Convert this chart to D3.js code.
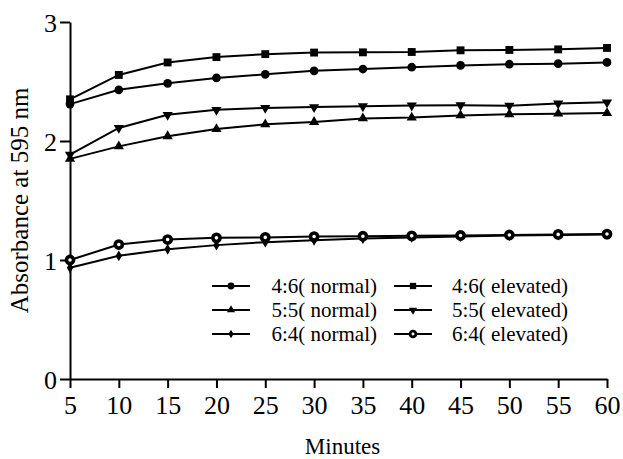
<!DOCTYPE html>
<html>
<head>
<meta charset="utf-8">
<script src="https://cdn.jsdelivr.net/npm/d3@7"></script>
<style>
body { margin: 0; background: #fff; }
text { font-family: "Liberation Serif", "Times New Roman", serif; fill: #000; }
.axis path, .axis line { stroke: #000; stroke-width: 2px; }
.axis text { font-size: 26px; font-family: "Liberation Serif", serif; }
.line { fill: none; stroke: #000; stroke-width: 2px; }
</style>
</head>
<body>
<script>
var minutes = [5, 10, 15, 20, 25, 30, 35, 40, 45, 50, 55, 60];

var normal46   = [2.31, 2.43, 2.485, 2.53, 2.56, 2.59, 2.605, 2.62, 2.635, 2.645, 2.65, 2.66];
var normal55   = [1.85, 1.955, 2.04, 2.10, 2.14, 2.16, 2.19, 2.197, 2.215, 2.225, 2.23, 2.235];
var normal64   = [0.935, 1.035, 1.09, 1.125, 1.15, 1.165, 1.18, 1.19, 1.197, 1.205, 1.21, 1.215];
var elevated46 = [2.35, 2.555, 2.66, 2.705, 2.73, 2.743, 2.745, 2.748, 2.762, 2.765, 2.77, 2.782];
var elevated55 = [1.885, 2.11, 2.22, 2.262, 2.278, 2.285, 2.292, 2.298, 2.30, 2.297, 2.315, 2.325];
var elevated64 = [1.0, 1.13, 1.172, 1.186, 1.19, 1.197, 1.20, 1.203, 1.206, 1.21, 1.215, 1.218];

var seriesNames = ["4:6( normal)", "5:5( normal)", "6:4( normal)",
                   "4:6( elevated)", "5:5( elevated)", "6:4( elevated)"];
var seriesValues = [normal46, normal55, normal64, elevated46, elevated55, elevated64];
var yTicks = [0, 1, 2, 3];

var margin = {top: 22, right: 16, bottom: 80, left: 70},
    width = 623 - margin.left - margin.right,
    height = 459 - margin.top - margin.bottom;

var x = d3.scaleLinear().domain([5, 60]).range([0, width]),
    y = d3.scaleLinear().domain([0, 3]).range([height, 0]);

// marker per series: symbol type, area, rotation
var markers = [
  {type: d3.symbolCircle,   size: 60, rot: 0},
  {type: d3.symbolTriangle, size: 45, rot: 0},
  {type: d3.symbolDiamond,  size: 34, rot: 0},
  {type: d3.symbolSquare,   size: 62, rot: 0},
  {type: d3.symbolTriangle, size: 45, rot: 180},
  {type: "ring",            size: 0,  rot: 0}
];

var svg = d3.select("body").append("svg")
    .attr("width", width + margin.left + margin.right)
    .attr("height", height + margin.top + margin.bottom)
  .append("g")
    .attr("transform", "translate(" + margin.left + "," + margin.top + ")");

function drawMarker(g, m, scale) {
  if (m.type === "ring") {
    g.append("circle")
        .attr("r", 3.6 * scale)
        .style("fill", "#fff")
        .style("stroke", "#000")
        .style("stroke-width", 3.6 * scale);
  } else {
    g.append("path")
        .attr("d", d3.symbol().type(m.type).size(m.size * scale * scale))
        .attr("transform", "rotate(" + m.rot + ")")
        .style("fill", "#000");
  }
}

var line = d3.line()
    .x(function(d, i) { return x(minutes[i]); })
    .y(function(d) { return y(d); });

// Axes
svg.append("g")
    .attr("class", "x axis")
    .attr("transform", "translate(0," + height + ")")
    .call(d3.axisBottom(x).tickValues(minutes).tickSize(9).tickSizeOuter(0).tickPadding(8));

svg.append("g")
    .attr("class", "y axis")
    .call(d3.axisLeft(y).tickValues(yTicks).tickFormat(d3.format("d"))
      .tickSize(10).tickSizeOuter(0).tickPadding(3));

svg.selectAll(".y.axis .tick text").attr("dy", "0.36em");

// Lines then markers
seriesValues.forEach(function(vals) {
  svg.append("path")
      .datum(vals)
      .attr("class", "line")
      .attr("d", line);
});

seriesValues.forEach(function(vals, s) {
  vals.forEach(function(v, i) {
    var g = svg.append("g")
        .attr("transform", "translate(" + x(minutes[i]) + "," + y(v) + ")");
    drawMarker(g, markers[s], 1);
  });
});

// Legend
var legendCols = [{x0: 142, textX: 307}, {x0: 324, textX: 498}];
var legendRows = [264, 288, 312];

seriesNames.forEach(function(name, s) {
  var col = legendCols[Math.floor(s / 3)],
      row = legendRows[s % 3];
  var g = svg.append("g")
      .attr("class", "legend")
      .attr("transform", "translate(0," + row + ")");
  g.append("line")
      .attr("x1", col.x0)
      .attr("x2", col.x0 + 38)
      .style("stroke", "#000")
      .style("stroke-width", 2);
  var mg = g.append("g").attr("transform", "translate(" + (col.x0 + 19) + ",0)");
  drawMarker(mg, markers[s], 0.8);
  g.append("text")
      .attr("x", col.textX)
      .attr("dy", "0.35em")
      .attr("text-anchor", "end")
      .style("font-size", "21px")
      .text(name);
});

// Axis titles
svg.append("text")
    .attr("x", width / 2 + 4)
    .attr("y", height + 75)
    .attr("text-anchor", "middle")
    .style("font-size", "23px")
    .text("Minutes");

svg.append("text")
    .attr("transform", "rotate(-90)")
    .attr("x", -(height / 2))
    .attr("y", -42)
    .attr("text-anchor", "middle")
    .style("font-size", "25px")
    .text("Absorbance at 595 nm");
</script>
</body>
</html>
